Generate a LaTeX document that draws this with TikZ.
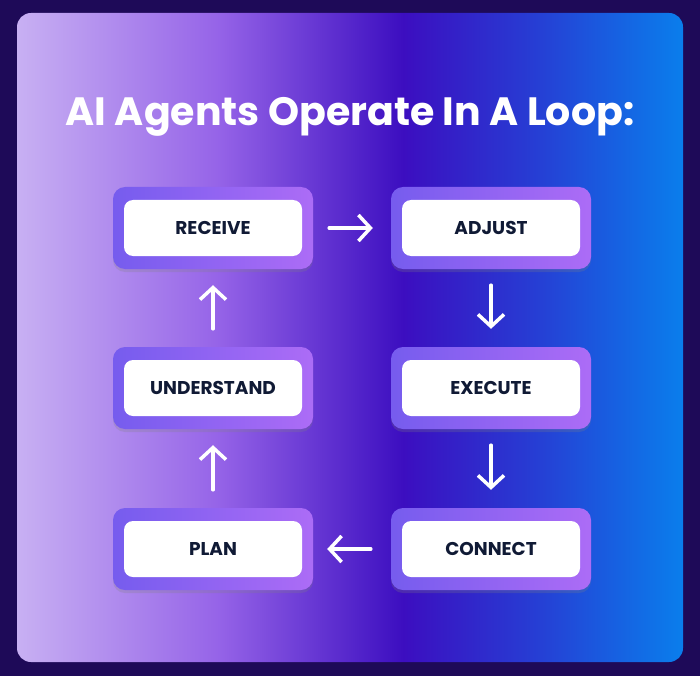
\documentclass[tikz,border=0pt]{standalone}
\usepackage{fontspec}
\setmainfont{Poppins}
\usetikzlibrary{arrows.meta,shadows}
\definecolor{bgdark}{HTML}{1E0A58}
\definecolor{txt}{HTML}{101A35}
\definecolor{cA}{RGB}{200,176,243}
\definecolor{cB}{RGB}{150,100,232}
\definecolor{cC}{RGB}{60,14,192}
\definecolor{cD}{RGB}{38,62,212}
\definecolor{cE}{RGB}{10,126,236}
\definecolor{bA}{RGB}{118,92,238}
\definecolor{bB}{RGB}{172,108,246}
\pgfdeclarehorizontalshading{cardshade}{100bp}{
 color(0bp)=(cA);
 color(25bp)=(cA);
 color(40bp)=(cB);
 color(54bp)=(cC);
 color(64bp)=(cD);
 color(75bp)=(cE);
 color(100bp)=(cE)}
\pgfdeclarehorizontalshading{boxshade}{100bp}{
 color(0bp)=(bA);
 color(25bp)=(bA);
 color(75bp)=(bB);
 color(100bp)=(bB)}
\tikzset{
 outerbox/.style={rounded corners=12pt, shading=boxshade, minimum width=200pt, minimum height=82pt, drop shadow={opacity=0.25,shadow xshift=0pt,shadow yshift=-3pt}},
 innerbox/.style={rounded corners=9pt, fill=white, minimum width=178pt, minimum height=56pt, text=txt, font=\fontsize{18.5}{20}\selectfont\bfseries},
 flow/.style={white, line width=3.5pt, line cap=round, -{Straight Barb[length=12pt,width=26pt,line width=3.5pt]}}
}
\begin{document}
\begin{tikzpicture}[x=1pt,y=-1pt]
\fill[bgdark] (0,0) rectangle (700,676);
\shade[shading=cardshade, rounded corners=14pt] (17,13) rectangle (683,662);
\node[white,font=\fontsize{39.5}{44}\selectfont\bfseries] (title) at (350,117) {AI Agents Operate In A Loop:};
\foreach \n/\x/\y/\t in {rec/213/228/RECEIVE, adj/491/228/ADJUST, und/213/388/UNDERSTAND, exe/491/388/EXECUTE, pla/213/549/PLAN, con/491/549/CONNECT}{
 \node[outerbox] (o\n) at (\x,\y) {};
 \node[innerbox] (\n) at (\x,\y) {\t};
}
\draw[flow] ([xshift=16pt]orec.east) -- ([xshift=-18pt]oadj.west);
\draw[flow] ([yshift=-16pt]oadj.south) -- ([yshift=18pt]oexe.north);
\draw[flow] ([yshift=-16pt]oexe.south) -- ([yshift=18pt]ocon.north);
\draw[flow] ([xshift=-20pt]ocon.west) -- ([xshift=14pt]opla.east);
\draw[flow] ([yshift=18pt]opla.north) -- ([yshift=-16pt]ound.south);
\draw[flow] ([yshift=18pt]ound.north) -- ([yshift=-16pt]orec.south);
\end{tikzpicture}
\end{document}
